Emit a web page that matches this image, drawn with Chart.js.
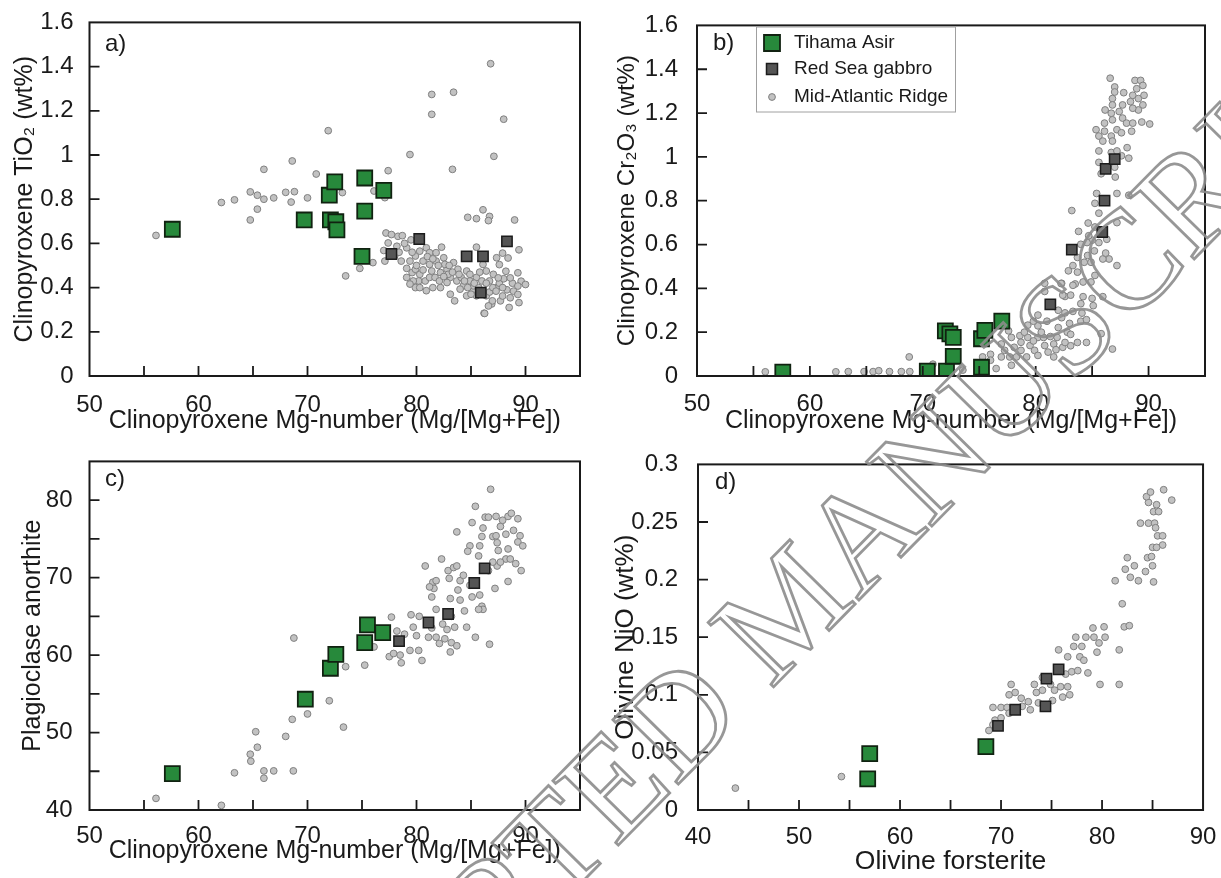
<!DOCTYPE html>
<html>
<head>
<meta charset="utf-8">
<title>Clinopyroxene, plagioclase and olivine compositions</title>
<script src="https://cdn.jsdelivr.net/npm/chart.js@4.4.1/dist/chart.umd.min.js"></script>
<style>
  html, body { margin: 0; padding: 0; background: #fff; }
  #page { position: relative; width: 1221px; height: 878px; overflow: hidden; }
  #page canvas { position: absolute; }
  #watermark { left: 0; top: 0; pointer-events: none; }
</style>
</head>
<body>
<div id="page">
  <canvas id="chartA" width="600" height="440" style="left:0;top:0"></canvas>
  <canvas id="chartB" width="621" height="440" style="left:600px;top:0"></canvas>
  <canvas id="chartC" width="600" height="440" style="left:0;top:438px"></canvas>
  <canvas id="chartD" width="621" height="440" style="left:600px;top:438px"></canvas>
  <canvas id="watermark" width="1221" height="878"></canvas>
</div>
<script>
// Tihama Asir gabbros vs Red Sea gabbro vs Mid-Atlantic Ridge - mineral chemistry

// Series names
const seriesNames = ['Tihama Asir', 'Red Sea gabbro', 'Mid-Atlantic Ridge'];

// Tick labels and tick marks
const xTicksMg = [50, 60, 70, 80, 90];
const xMarksMg = [55, 60, 65, 70, 75, 80, 85, 90];
const yTicksWt = [0, 0.2, 0.4, 0.6, 0.8, 1, 1.2, 1.4, 1.6];
const yMarksWt = [0.2, 0.4, 0.6, 0.8, 1, 1.2, 1.4];
const yTicksAn = [40, 50, 60, 70, 80];
const yMarksAn = [45, 50, 55, 60, 65, 70, 75, 80];
const xTicksFo = [40, 50, 60, 70, 80, 90];
const xMarksFo = [45, 50, 55, 60, 65, 70, 75, 80, 85];
const yTicksNi = [0, 0.05, 0.1, 0.15, 0.2, 0.25, 0.3];
const yMarksNi = [0.05, 0.1, 0.15, 0.2, 0.25];

// a) clinopyroxene Mg# vs TiO2
const tihamaA = [[57.6,0.664],[69.7,0.706],[72.0,0.818],[72.5,0.878],[72.1,0.706],[72.6,0.698],[72.7,0.661],[75.25,0.896],[75.25,0.746],[75.0,0.541],[77.0,0.840]];
const gabbroA = [[77.7,0.552],[80.25,0.62],[84.6,0.541],[86.1,0.541],[85.9,0.377],[88.3,0.609]];
const marA = [
  [56.1,0.636],[62.1,0.785],[63.3,0.797],[64.75,0.833],[65.4,0.818],[66.0,0.80],[65.4,0.755],[64.75,0.706],[66.0,0.935],[66.9,0.806],
  [68.0,0.831],[68.8,0.834],[68.5,0.787],[68.6,0.973],[70.0,0.806],[70.8,0.914],[71.9,1.110],[73.2,0.830],[76.1,0.837],[77.1,0.807],
  [77.4,0.929],[79.4,1.002],[81.4,1.274],[81.4,1.184],[83.4,1.284],[83.3,0.935],[86.8,1.413],[88.0,1.162],[87.1,0.994],[89.0,0.706],
  [89.4,0.571],[79.5,0.616],[84.7,0.718],[85.5,0.712],[86.1,0.752],[86.7,0.722],[86.6,0.703],
  [77.2,0.647],[77.7,0.64],[78.3,0.632],[78.7,0.635],[77.4,0.602],[78.2,0.587],[79.1,0.58],[77.0,0.568],[77.1,0.52],[76.0,0.513],
  [74.8,0.487],[73.5,0.453],[78.0,0.543],[78.6,0.52],[79.1,0.487],[79.6,0.468],[79.4,0.52],[79.9,0.543],[80.3,0.565],[80.9,0.58],
  [81.2,0.558],[81.8,0.558],[82.3,0.583],[80.6,0.52],[81.2,0.505],[81.8,0.52],[82.5,0.535],[79.9,0.483],[80.3,0.46],[80.2,0.43],
  [79.9,0.40],[80.8,0.43],[81.2,0.446],[81.5,0.40],[82.2,0.468],[82.8,0.483],[83.4,0.513],[83.8,0.483],[83.1,0.446],[83.7,0.43],
  [84.1,0.446],[84.6,0.475],[84.3,0.408],[83.1,0.37],[83.5,0.34],[84.9,0.43],[85.1,0.386],[85.5,0.446],[85.5,0.583],[86.1,0.505],
  [86.4,0.475],[86.7,0.43],[87.05,0.46],[87.35,0.535],[86.1,0.386],[86.4,0.363],[86.9,0.326],[86.2,0.284],[85.5,0.363],[87.35,0.40],
  [82.8,0.423],[82.2,0.40],[80.9,0.386],[79.1,0.446],[79.7,0.43],[80.3,0.40],[79.4,0.416],[81.4,0.475],[81.7,0.446],[82.6,0.505],
  [82.9,0.46],[84.0,0.393],[84.6,0.363],[85.2,0.408],[85.7,0.40],[86.0,0.43],[84.9,0.46],
  [78.4,0.56],[78.9,0.60],[79.6,0.56],[80.0,0.50],[80.6,0.48],[81.0,0.54],[81.5,0.53],[82.0,0.50],[82.1,0.43],[82.5,0.45],
  [83.0,0.50],[83.3,0.47],[83.9,0.46],[84.4,0.43],[84.7,0.40],[85.0,0.37],[85.3,0.42],[85.8,0.47],[86.4,0.42],[86.7,0.38],
  [87.0,0.40],[87.6,0.42],[88.0,0.44],[88.8,0.42],[88.3,0.39],[87.7,0.34],
  [87.9,0.556],[88.4,0.534],[87.6,0.504],[88.2,0.474],[88.6,0.444],[89.3,0.467],[89.6,0.429],[90.0,0.414],[89.3,0.407],[88.9,0.384],
  [88.6,0.354],[87.9,0.362],[89.3,0.369],[88.5,0.31],[89.4,0.332],[87.9,0.40],[87.5,0.444],[87.3,0.384],[86.96,0.34],[86.6,0.317],[86.25,0.283]
];

// b) clinopyroxene Mg# vs Cr2O3
const tihamaB = [[57.6,0.018],[70.4,0.022],[72.1,0.022],[72.0,0.206],[72.4,0.192],[72.7,0.176],[72.7,0.09],[75.2,0.04],[75.2,0.17],[75.5,0.208],[77.0,0.25]];
const gabbroB = [[81.3,0.327],[83.2,0.577],[85.9,0.657],[86.1,0.80],[86.2,0.945],[87.0,0.99]];
const marB = [
  [56.05,0.019],[62.3,0.019],[63.4,0.02],[64.8,0.02],[65.6,0.02],[66.1,0.024],[67.05,0.02],[68.1,0.02],[68.85,0.02],[68.8,0.087],
  [70.9,0.054],[73.55,0.027],[75.3,0.087],[76.0,0.099],[76.5,0.034],[76.0,0.072],[76.96,0.087],[76.96,0.146],[77.6,0.206],[77.85,0.176],
  [77.25,0.117],[77.7,0.087],[78.1,0.131],[78.6,0.184],[78.7,0.154],[79.3,0.232],[79.3,0.176],[78.7,0.117],[78.3,0.087],[77.85,0.049],
  [79.5,0.139],[79.9,0.117],[80.2,0.176],[80.2,0.229],[80.2,0.278],[80.7,0.176],[80.8,0.139],[81.1,0.109],[81.6,0.146],[81.9,0.176],
  [82.0,0.221],[82.3,0.266],[82.6,0.288],[82.4,0.131],[80.8,0.423],[80.8,0.386],[82.3,0.423],[82.6,0.363],[80.2,0.094],[81.6,0.087],[79.2,0.087],
  [79.0,0.20],[79.8,0.16],[80.5,0.20],[81.3,0.18],[81.8,0.12],[82.8,0.20],[83.0,0.24],[81.0,0.25],[79.8,0.25],[82.0,0.30],
  [84.0,0.33],[83.5,0.42],[82.9,0.48],[84.6,0.55],[85.0,0.62],[83.8,0.66],
  [83.2,0.755],[84.65,0.698],[85.6,0.743],[85.4,0.833],[85.25,0.68],[87.2,0.70],[87.2,0.504],[86.5,0.534],[85.6,0.609],[85.2,0.571],
  [84.55,0.609],[84.0,0.601],[83.7,0.541],[84.3,0.519],[84.9,0.519],[83.3,0.504],[83.7,0.474],[83.3,0.414],[84.2,0.429],[84.9,0.429],
  [82.25,0.422],[83.1,0.369],[82.4,0.369],[84.2,0.362],[85.0,0.354],[85.1,0.321],[85.95,0.362],[85.8,0.193],[86.8,0.123],[84.5,0.153],
  [83.7,0.153],[83.1,0.138],[82.6,0.153],[83.1,0.19],[84.0,0.25],[84.1,0.287],[84.5,0.257],[83.3,0.295],[85.25,0.459],[85.95,0.534],
  [86.2,0.561],[86.3,0.624],[84.7,0.64],[87.2,0.833],[88.25,0.825],[85.25,0.788],
  [86.6,1.359],[87.0,1.319],[87.0,1.296],[86.8,1.266],[87.8,1.293],[88.8,1.349],[89.3,1.349],[88.95,1.311],[89.5,1.326],[88.6,1.281],
  [89.1,1.266],[89.6,1.281],[88.4,1.252],[89.5,1.237],[89.1,1.214],[88.6,1.222],[87.7,1.237],[87.4,1.207],[86.8,1.237],[86.7,1.199],
  [86.15,1.214],[87.7,1.177],[88.05,1.154],[88.6,1.154],[89.4,1.159],[90.1,1.15],[86.8,1.169],[86.1,1.154],[85.35,1.124],[86.1,1.117],
  [87.2,1.124],[86.7,1.095],[85.6,1.095],[85.95,1.072],[86.8,1.072],[87.6,1.11],[88.5,1.117],[85.6,1.027],[86.7,1.02],[87.2,1.027],
  [88.1,1.042],[87.6,1.005],[88.25,0.994],[87.0,0.953],[85.6,0.975],[85.8,0.923],[87.05,0.908]
];

// c) clinopyroxene Mg# vs plagioclase An
const tihamaC = [[57.6,44.7],[69.8,54.3],[72.1,58.3],[72.6,60.1],[75.25,61.6],[75.5,63.9],[76.9,62.9]];
const gabbroC = [[78.4,61.8],[81.1,64.2],[82.9,65.3],[85.3,69.3],[86.25,71.2]];
const marC = [
  [56.1,41.5],[62.1,40.6],[63.3,44.8],[64.75,47.2],[64.8,46.3],[65.25,50.1],[65.4,48.1],[66.0,45.05],[66.0,44.1],[66.9,45.05],
  [68.0,49.5],[68.7,45.05],[68.6,51.7],[68.75,62.2],[70.0,52.4],[72.0,54.1],[73.3,50.7],[73.5,58.5],[75.25,58.7],[76.1,61.05],
  [77.7,64.9],[77.5,59.8],[77.9,60.2],[78.2,63.1],[78.6,59.0],[78.5,60.0],[78.9,62.7],[79.5,65.2],[79.4,60.6],[79.7,63.6],
  [80.0,62.5],[80.2,60.6],[80.5,59.3],[80.25,65.0],[80.8,71.5],[81.1,62.3],[81.4,63.5],[81.5,69.4],[81.6,68.6],[81.8,69.6],
  [81.2,68.8],[81.4,67.5],[81.8,65.9],[81.8,62.3],[82.3,72.4],[82.1,61.5],[82.4,64.0],[82.6,62.1],[82.8,63.3],[82.9,70.9],
  [83.0,69.9],[83.4,71.3],[83.7,71.5],[83.1,67.3],[83.2,65.0],[83.5,63.6],[83.2,61.6],[83.1,60.4],[83.7,61.2],[84.0,69.6],
  [84.3,70.3],[83.8,68.4],[84.0,67.1],[84.4,65.7],[84.6,63.6],[83.7,75.9],[84.9,69.0],[85.1,67.5],[85.4,62.3],[85.1,77.1],
  [85.4,79.2],[84.9,74.1],[84.7,73.4],[85.7,72.8],[85.8,74.1],[86.0,75.3],[86.1,76.4],[86.3,77.8],[85.8,67.75],[86.0,66.3],
  [86.1,65.9],[86.7,61.4],[86.6,77.8],[86.8,81.4],[87.0,75.3],[87.2,68.6],[87.4,74.5],[87.4,71.5],
  [87.0,72.0],[87.5,73.5],[87.3,75.4],[87.7,76.6],[87.9,77.4],[87.3,77.9],[88.4,77.9],[88.7,78.3],[88.2,75.6],[88.9,76.1],
  [89.3,77.6],[89.5,75.4],[89.3,74.6],[89.75,74.1],[88.4,73.7],[88.2,72.4],[88.6,72.4],[87.7,72.0],[89.1,71.8],[89.6,70.9],
  [88.4,69.5],[86.6,70.9],[85.7,65.9]
];

// d) olivine Fo vs NiO
const tihamaD = [[57.0,0.049],[56.8,0.027],[68.5,0.055]];
const gabbroD = [[69.7,0.073],[71.4,0.087],[74.4,0.090],[74.5,0.114],[75.7,0.122]];
const marD = [
  [43.7,0.019],[54.2,0.029],[68.8,0.069],[69.2,0.074],[69.4,0.078],[69.2,0.089],[70.0,0.089],[70.6,0.089],[70.0,0.08],[70.8,0.084],
  [71.0,0.109],[70.8,0.1],[71.4,0.102],[72.0,0.097],[72.1,0.09],[72.7,0.094],[72.9,0.087],[73.3,0.109],[73.5,0.102],[73.7,0.093],
  [74.1,0.104],[74.1,0.115],[74.9,0.109],[75.3,0.104],[75.1,0.095],[75.9,0.107],[76.1,0.098],[76.6,0.107],[76.8,0.1],[76.4,0.118],
  [77.0,0.12],[75.7,0.139],[76.6,0.133],[77.2,0.142],[77.4,0.15],[78.4,0.15],[78.0,0.142],[77.8,0.133],[78.2,0.13],[77.6,0.121],
  [78.6,0.119],[79.2,0.15],[79.1,0.158],[79.7,0.145],[79.5,0.137],[80.3,0.15],[80.2,0.159],[79.8,0.109],[81.7,0.139],[81.7,0.109],
  [82.0,0.179],[81.3,0.199],[82.2,0.159],[82.7,0.16],[82.3,0.209],[82.5,0.219],[83.2,0.212],[82.8,0.202],[83.6,0.199],[83.8,0.249],
  [84.3,0.207],[84.5,0.219],[84.6,0.249],[84.6,0.267],[84.4,0.272],[84.8,0.276],[85.0,0.228],[85.0,0.212],[85.2,0.249],[85.1,0.259],
  [85.4,0.265],[85.1,0.198],[84.9,0.22],[85.3,0.245],[85.6,0.259],[85.5,0.238],[86.1,0.278],[86.0,0.238],[86.0,0.23],[85.4,0.228],[86.9,0.269]
];

const FONT = '"Liberation Sans", Arial, Helvetica, sans-serif';
const INK = '#1a1a1a';

function seriesSets(tihama, gabbro, mar) {
    return [
        { label: seriesNames[0], data: tihama, pointStyle: 'rect', pointRadius: 10.6,
          backgroundColor: '#27893b', borderColor: '#112211', borderWidth: 1.8 },
        { label: seriesNames[1], data: gabbro, pointStyle: 'rect', pointRadius: 7.3,
          backgroundColor: '#555555', borderColor: '#1c1c1c', borderWidth: 1.5 },
        { label: seriesNames[2], data: mar, pointStyle: 'circle', pointRadius: 3.4,
          backgroundColor: '#c2c2c2', borderColor: '#808080', borderWidth: 1 }
    ];
}

/**
 * Frame, inward tick marks, panel tag (and the legend on panel b)
 */
function framePlugin(p) {
    return {
        id: 'frame',
        afterDatasetsDraw(chart) {
            const { ctx, chartArea: a, scales: { x, y } } = chart;
            ctx.save();
            ctx.strokeStyle = INK;
            ctx.lineWidth = 1.8;
            ctx.beginPath();
            p.xMarks.forEach(v => {
                const px = x.getPixelForValue(v);
                ctx.moveTo(px, a.bottom);
                ctx.lineTo(px, a.bottom - 10);
            });
            p.yMarks.forEach(v => {
                const py = y.getPixelForValue(v);
                ctx.moveTo(a.left, py);
                ctx.lineTo(a.left + 10, py);
            });
            ctx.stroke();
            ctx.lineWidth = 2;
            ctx.strokeRect(a.left, a.top, a.right - a.left, a.bottom - a.top);

            ctx.fillStyle = INK;
            ctx.font = '24px ' + FONT;
            ctx.textBaseline = 'middle';
            ctx.fillText(p.tag, p.tagX, p.tagY);

            if (p.legend) drawLegend(ctx, chart);
            ctx.restore();
        }
    };
}

function drawLegend(ctx, chart) {
    const box = { x: 156.5, y: 27, w: 199, h: 85 };
    ctx.fillStyle = '#fff';
    ctx.fillRect(box.x, box.y, box.w, box.h);
    ctx.strokeStyle = '#a0a0a0';
    ctx.lineWidth = 1;
    ctx.strokeRect(box.x, box.y, box.w, box.h);

    const rows = [43, 69, 97];
    chart.data.datasets.forEach((ds, i) => {
        const cx = 172, cy = rows[i];
        ctx.fillStyle = ds.backgroundColor;
        ctx.strokeStyle = ds.borderColor;
        ctx.lineWidth = ds.borderWidth;
        ctx.beginPath();
        if (ds.pointStyle === 'rect') {
            const h = i === 0 ? 8 : 5.5;
            ctx.rect(cx - h, cy - h, 2 * h, 2 * h);
        } else {
            ctx.arc(cx, cy, 3.4, 0, Math.PI * 2);
        }
        ctx.fill();
        ctx.stroke();
        ctx.fillStyle = INK;
        ctx.font = '19px ' + FONT;
        ctx.textBaseline = 'middle';
        ctx.fillText(ds.label, 194, cy);
    });
}

function makeChart(canvasId, p) {
    const ctx = document.getElementById(canvasId).getContext('2d');
    return new Chart(ctx, {
        type: 'scatter',
        data: { datasets: seriesSets(p.tihama, p.gabbro, p.mar).map(d => Object.assign(d, { clip: { left: 10, top: 10, right: 10, bottom: 0 } })) },
        options: {
            responsive: false,
            animation: false,
            devicePixelRatio: 1,
            events: [],
            layout: { padding: { top: p.padTop, right: p.padRight, left: 0, bottom: 0 } },
            plugins: { legend: { display: false }, tooltip: { enabled: false } },
            scales: {
                x: {
                    type: 'linear', min: p.xMin, max: p.xMax,
                    afterBuildTicks: s => { s.ticks = p.xTicks.map(v => ({ value: v })); },
                    afterFit: s => { s.height = p.xHeight; },
                    grid: { display: false },
                    border: { display: false },
                    ticks: { color: INK, font: { family: FONT, size: 24 }, padding: p.xTickPad,
                             maxRotation: 0, autoSkip: false, callback: v => String(v) },
                    title: { display: true, text: p.xTitle, color: INK,
                             font: { family: FONT, size: p.xTitleSize }, padding: { top: 0, bottom: p.xTitlePad } }
                },
                y: {
                    type: 'linear', min: p.yMin, max: p.yMax,
                    afterBuildTicks: s => { s.ticks = p.yTicks.map(v => ({ value: v })); },
                    afterFit: s => { s.width = p.yWidth; },
                    grid: { display: false },
                    border: { display: false },
                    ticks: { color: INK, font: { family: FONT, size: 24 }, padding: p.yTickPad,
                             autoSkip: false, callback: v => String(v) },
                    title: { display: true, text: p.yTitle, color: INK,
                             font: { family: FONT, size: p.yTitleSize }, padding: { top: p.yTitlePad, bottom: 0 } }
                }
            }
        },
        plugins: [framePlugin(p)]
    });
}

function drawWatermark() {
    const ctx = document.getElementById('watermark').getContext('2d');
    ctx.save();
    ctx.translate(213, 1205);
    ctx.rotate(-45.5 * Math.PI / 180);
    ctx.font = '140px "Liberation Serif", "Times New Roman", serif';
    ctx.textBaseline = 'middle';
    ctx.strokeStyle = 'rgba(140,140,140,0.9)';
    ctx.lineWidth = 2.8;
    ctx.strokeText('ACCEPTED MANUSCRIPT', 0, 0);
    ctx.restore();
}

const mgTitle = 'Clinopyroxene Mg-number (Mg/[Mg+Fe])';

makeChart('chartA', {
    tihama: tihamaA, gabbro: gabbroA, mar: marA,
    xMin: 50, xMax: 95, yMin: 0, yMax: 1.6,
    xTicks: xTicksMg, xMarks: xMarksMg, yTicks: yTicksWt, yMarks: yMarksWt,
    padTop: 19, padRight: 20, yWidth: 89.5, xHeight: 64,
    xTickPad: 6.6, yTickPad: 8, xTitlePad: 4.3, yTitlePad: 10.6,
    xTitle: mgTitle, yTitle: 'Clinopyroxene TiO₂ (wt%)', xTitleSize: 25, yTitleSize: 25,
    tag: 'a)', tagX: 105, tagY: 44
});

makeChart('chartB', {
    tihama: tihamaB, gabbro: gabbroB, mar: marB,
    xMin: 50, xMax: 95, yMin: 0, yMax: 1.6,
    xTicks: xTicksMg, xMarks: xMarksMg, yTicks: yTicksWt, yMarks: yMarksWt,
    padTop: 19, padRight: 16, yWidth: 97, xHeight: 64,
    xTickPad: 6.3, yTickPad: 11, xTitlePad: 4.3, yTitlePad: 13.3,
    xTitle: mgTitle, yTitle: 'Clinopyroxene Cr₂O₃ (wt%)', xTitleSize: 25, yTitleSize: 24,
    tag: 'b)', tagX: 113, tagY: 43, legend: true
});

makeChart('chartC', {
    tihama: tihamaC, gabbro: gabbroC, mar: marC,
    xMin: 50, xMax: 95, yMin: 40, yMax: 85,
    xTicks: xTicksMg, xMarks: xMarksMg, yTicks: yTicksAn, yMarks: yMarksAn,
    padTop: 15, padRight: 20, yWidth: 89.5, xHeight: 68,
    xTickPad: 4.1, yTickPad: 9, xTitlePad: 11.6, yTitlePad: 18,
    xTitle: mgTitle, yTitle: 'Plagioclase anorthite', xTitleSize: 25, yTitleSize: 25,
    tag: 'c)', tagX: 105, tagY: 41
});

makeChart('chartD', {
    tihama: tihamaD, gabbro: gabbroD, mar: marD,
    xMin: 40, xMax: 90, yMin: 0, yMax: 0.3,
    xTicks: xTicksFo, xMarks: xMarksFo, yTicks: yTicksNi, yMarks: yMarksNi,
    padTop: 15, padRight: 16, yWidth: 98, xHeight: 68,
    xTickPad: 4.6, yTickPad: 12, xTitlePad: 0.5, yTitlePad: 10,
    xTitle: 'Olivine forsterite', yTitle: 'Olivine NiO (wt%)', xTitleSize: 26.5, yTitleSize: 26,
    tag: 'd)', tagX: 115, tagY: 44
});

drawWatermark();
</script>
</body>
</html>
